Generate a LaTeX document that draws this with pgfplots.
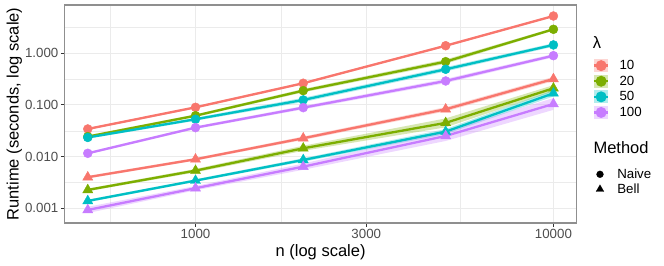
\documentclass[border=0pt]{standalone}
\usepackage{fontspec}
\setmainfont{Liberation Sans}
\usepackage{pgfplots}
\pgfplotsset{compat=1.18}
\usepackage{pgfplotstable}
\usepgfplotslibrary{fillbetween}

\definecolor{cA}{HTML}{F8766D}
\definecolor{cB}{HTML}{7CAE00}
\definecolor{cC}{HTML}{00BFC4}
\definecolor{cD}{HTML}{C77CFF}
\definecolor{gridc}{HTML}{EBEBEB}
\definecolor{tickc}{HTML}{333333}
\definecolor{tlab}{HTML}{4D4D4D}
\definecolor{borderc}{HTML}{8F8F8F}

% Naive
\pgfplotstableread{
n y lo hi
500 0.0343 0.0327 0.0360
1000 0.0900 0.0857 0.0945
2000 0.263 0.250 0.276
5000 1.40 1.333 1.47
10000 5.26 5.01 5.52
}\naiveA
\pgfplotstableread{
n y lo hi
500 0.0244 0.0230 0.0259
1000 0.0620 0.0585 0.0657
2000 0.189 0.175 0.204
5000 0.689 0.626 0.758
10000 2.91 2.745 3.085
}\naiveB
\pgfplotstableread{
n y lo hi
500 0.0235 0.0222 0.0249
1000 0.0529 0.0494 0.0566
2000 0.125 0.1136 0.1375
5000 0.490 0.445 0.539
10000 1.45 1.343 1.566
}\naiveC
\pgfplotstableread{
n y lo hi
500 0.0116 0.01105 0.01218
1000 0.0364 0.0343 0.0386
2000 0.0887 0.0821 0.0958
5000 0.291 0.2645 0.320
10000 0.899 0.832 0.971
}\naiveD
% Bell
\pgfplotstableread{
n y lo hi
500 0.0040 0.00377 0.00424
1000 0.0089 0.0084 0.00943
2000 0.0227 0.0210 0.0245
5000 0.0826 0.0751 0.0909
10000 0.318 0.289 0.350
}\bellA
\pgfplotstableread{
n y lo hi
500 0.00227 0.00214 0.00241
1000 0.00536 0.00496 0.00579
2000 0.0145 0.01295 0.01624
5000 0.0450 0.0369 0.0549
10000 0.210 0.1826 0.2415
}\bellB
\pgfplotstableread{
n y lo hi
500 0.00139 0.00131 0.00147
1000 0.00344 0.00325 0.00365
2000 0.00863 0.00799 0.00932
5000 0.0305 0.0272 0.0342
10000 0.168 0.146 0.193
}\bellC
\pgfplotstableread{
n y lo hi
500 0.00093 0.00081 0.00107
1000 0.00245 0.00223 0.00270
2000 0.0064 0.00557 0.00736
5000 0.0251 0.0201 0.0314
10000 0.1045 0.0804 0.1359
}\bellD

\newcommand{\ribbon}[3]{%
  \addplot[name path=lo#3, draw=none, forget plot] table[x=n,y=lo]{#1};
  \addplot[name path=hi#3, draw=none, forget plot] table[x=n,y=hi]{#1};
  \addplot[fill=#2, fill opacity=0.3, draw=none, forget plot] fill between[of=hi#3 and lo#3];
}
\newcommand{\trace}[2]{%
  \addplot[#2, line width=2.3bp, forget plot] table[x=n,y=y]{#1};
}
\newcommand{\circs}[2]{%
  \addplot[#2, only marks, mark=*, mark size=4.5bp, forget plot] table[x=n,y=y]{#1};
}
\newcommand{\tris}[2]{%
  \addplot[#2, only marks, mark=triangle*, mark size=5.8bp, forget plot] table[x=n,y=y]{#1};
}

\pgfplotsset{
  lamkey/.style={#1, line width=2.3bp, mark=*, mark size=4.3bp,
    legend image code/.code={%
      \fill[##1, fill opacity=0.3, draw=none] (0bp,-6.65bp) rectangle (14.6bp,6.65bp);
      \draw[mark repeat=2, mark phase=2, ##1] plot coordinates {(0bp,0bp) (7.3bp,0bp) (14.6bp,0bp)};
    }},
  methkey/.style={black, only marks, mark=#1,
    legend image code/.code={%
      \path[draw=none, fill=none] (0bp,-6.65bp) rectangle (14.6bp,6.65bp);
      \draw[##1] plot coordinates {(7.3bp,0bp)};
    }},
}

\begin{document}
\begin{tikzpicture}
\begin{axis}[
  at={(64.5bp,43bp)}, anchor=south west,
  scale only axis, width=512.2bp, height=218bp,
  xmode=log, ymode=log,
  xmin=430.5, xmax=11616, ymin=0.000520, ymax=8.59,
  xtick={1000,3000,10000}, xticklabels={1000,3000,10000},
  ytick={0.001,0.01,0.1,1}, yticklabels={0.001,0.010,0.100,1.000},
  minor xtick={577.35,1732.05,5477.23},
  minor ytick={0.00316,0.0316,0.316,3.162},
  grid=both,
  major grid style={color=gridc, line width=1.07bp},
  minor grid style={color=gridc, line width=0.53bp},
  tick align=outside, tick pos=left,
  major tick length=3.7bp, minor tick length=0pt,
  major tick style={color=tickc, line width=1.07bp},
  axis line style={color=borderc, line width=1.07bp},
  ticklabel style={font=\fontsize{13.3bp}{16bp}\selectfont, text=tlab},
  xticklabel style={inner sep=0pt, yshift=-2.8bp},
  yticklabel style={inner sep=0pt, xshift=-2.3bp},
  xlabel={n (log scale)},
  ylabel={Runtime (seconds, log scale)},
  label style={font=\fontsize{16.5bp}{19bp}\selectfont},
  xlabel style={at={(axis description cs:0.5,-0.1537)}, anchor=base, inner sep=0pt},
  ylabel style={at={(axis description cs:-0.0898,0.5)}, anchor=base, inner sep=0pt},
  legend style={draw=none, fill=none, at={(1.0312,0.7523)}, anchor=north west,
    inner sep=0pt, outer sep=0pt, row sep=2.3bp, column sep=10bp,
    font=\fontsize{13.3bp}{16bp}\selectfont, nodes={inner sep=0pt}},
  legend cell align=left,
]
\ribbon{\naiveA}{cA}{na}
\ribbon{\naiveB}{cB}{nb}
\ribbon{\naiveC}{cC}{nc}
\ribbon{\naiveD}{cD}{nd}
\ribbon{\bellA}{cA}{ba}
\ribbon{\bellB}{cB}{bb}
\ribbon{\bellC}{cC}{bc}
\ribbon{\bellD}{cD}{bd}
\trace{\naiveA}{cA}
\trace{\naiveB}{cB}
\trace{\naiveC}{cC}
\trace{\naiveD}{cD}
\trace{\bellA}{cA}
\trace{\bellB}{cB}
\trace{\bellC}{cC}
\trace{\bellD}{cD}
\circs{\naiveA}{cA}
\circs{\naiveB}{cB}
\circs{\naiveC}{cC}
\circs{\naiveD}{cD}
\tris{\bellA}{cA}
\tris{\bellB}{cB}
\tris{\bellC}{cC}
\tris{\bellD}{cD}
\addlegendimage{lamkey=cA}\addlegendentry{10}
\addlegendimage{lamkey=cB}\addlegendentry{20}
\addlegendimage{lamkey=cC}\addlegendentry{50}
\addlegendimage{lamkey=cD}\addlegendentry{100}
\end{axis}
\begin{axis}[
  at={(64.5bp,43bp)}, anchor=south west,
  scale only axis, width=512.2bp, height=218bp,
  hide axis, xmin=0, xmax=1, ymin=0, ymax=1,
  legend style={draw=none, fill=none, at={(1.0312,0.2539)}, anchor=north west,
    inner sep=0pt, outer sep=0pt, row sep=1.7bp, column sep=10bp,
    font=\fontsize{13.3bp}{16bp}\selectfont, nodes={inner sep=0pt}},
  legend cell align=left,
]
\addplot[draw=none, forget plot] coordinates {(0.5,0.5)};
\addlegendimage{methkey=*, mark size=3.4bp}\addlegendentry{Naive}
\addlegendimage{methkey=triangle*, mark size=4.4bp}\addlegendentry{Bell}
\end{axis}
\node[anchor=base west, inner sep=0pt, font=\fontsize{16.5bp}{19bp}\selectfont] at (592.7bp,217.7bp) {λ};
\node[anchor=base west, inner sep=0pt, font=\fontsize{16.5bp}{19bp}\selectfont] at (593.3bp,112bp) {Method};
\pgfresetboundingbox
\useasboundingbox (0bp,0bp) rectangle (664bp,266bp);
\end{tikzpicture}
\end{document}
